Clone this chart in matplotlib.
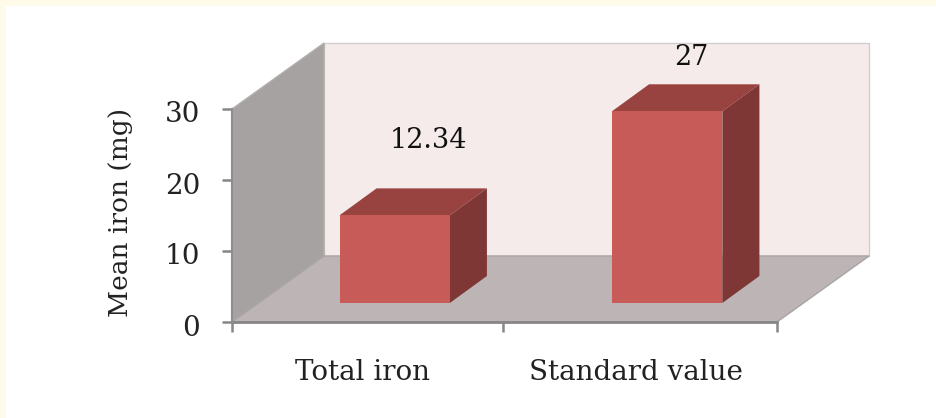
import matplotlib.pyplot as plt
from matplotlib.patches import Polygon, Rectangle
from matplotlib.transforms import ScaledTranslation

categories = ["Total iron", "Standard value"]
values = [12.34, 27]
value_labels = ["12.34", "27"]
y_ticks = [0, 10, 20, 30]

W, H = 936, 418

# oblique projection: depth offsets in axis units (category, mg)
wall_dx, wall_dy = 0.338, 9.3
bar_dx, bar_dy = 0.136, 3.8
base_dx, base_dy = 0.097, 2.68
bar_width = 0.405

plt.rcParams['font.family'] = ['DejaVu Serif']

fig = plt.figure(figsize=(W / 100, H / 100), dpi=100, facecolor='#FFFBEB')
fig.patches.append(Rectangle((6 / W, 0), 1 - 6 / W, 1 - 6 / H, transform=fig.transFigure,
                             facecolor='white', edgecolor='none', zorder=-1))

ax = fig.add_axes([232 / W, 1 - 322 / H, 545 / W, 213 / H])
ax.set_xlim(0, 2)
ax.set_ylim(0, 30)
ax.patch.set_visible(False)
for side in ['top', 'right', 'left', 'bottom']:
    ax.spines[side].set_visible(False)


def face(points, color, edge='none', z=1):
    ax.add_patch(Polygon(points, closed=True, facecolor=color, edgecolor=edge,
                         linewidth=1, zorder=z, clip_on=False))


# walls and floor
face([(wall_dx, wall_dy), (2 + wall_dx, wall_dy), (2 + wall_dx, 30 + wall_dy), (wall_dx, 30 + wall_dy)],
     '#F5EBEB', '#D2CDCD', 1)
face([(0, 0), (wall_dx, wall_dy), (wall_dx, 30 + wall_dy), (0, 30)], '#A6A2A2', '#B4B0B0', 2)
face([(0, 0), (2, 0), (2 + wall_dx, wall_dy), (wall_dx, wall_dy)], '#BDB5B5', '#A8A4A4', 2)

# bars: front face from the library's bar call, top and side sheared behind it
for i, v in enumerate(values):
    left = i + 0.5 + base_dx - bar_width / 2
    right = left + bar_width
    bottom = base_dy
    top = base_dy + v
    ax.bar(left, v, width=bar_width, bottom=bottom, align='edge', color='#C65B57',
           zorder=5, clip_on=False)
    face([(left, top), (right, top), (right + bar_dx, top + bar_dy), (left + bar_dx, top + bar_dy)],
         '#98433F', z=4)
    face([(right, bottom), (right + bar_dx, bottom + bar_dy), (right + bar_dx, top + bar_dy), (right, top)],
         '#7F3735', z=4)

# value labels sit above the bars, cut off at the top of the back wall
clip = Rectangle((0, 0), 2 + wall_dx, 30 + wall_dy, transform=ax.transData)
label_pos = [(0.72, 25.6), (1.684, 37.2)]
for (x, y), s in zip(label_pos, value_labels):
    t = ax.text(x, y, s, ha='center', va='center', fontsize=19.5, color='#111111', zorder=6)
    t.set_clip_path(clip)

ax.set_yticks(y_ticks)
ax.set_yticklabels([str(t) for t in y_ticks], fontsize=20, color='#222222',
                   va='center')
ax.set_xticks([0, 0.995, 2])
ax.set_xticklabels([])
ax.tick_params(axis='both', color='#868686', width=1.8, length=7.5, pad=15.5)
# tick numbers sit a little below their ticks
shift = ScaledTranslation(0, -6 / 100, fig.dpi_scale_trans)
for lab in ax.get_yticklabels():
    lab.set_transform(lab.get_transform() + shift)
ax.plot([0, 2], [0, 0], color='#868686', lw=2, zorder=3, clip_on=False)
ax.plot([0, 0], [0, 30], color='#8E8E8E', lw=1.5, zorder=3, clip_on=False)

for x, s in zip([0.48, 1.483], categories):
    ax.text(x, -7.1, s, ha='center', va='center', fontsize=20, color='#222222')

ax.set_ylabel("Mean iron (mg)", fontsize=19, color='#222222')
ax.yaxis.set_label_coords(-99 / 545, 0.516)

fig.savefig("out.png", dpi=100, facecolor=fig.get_facecolor())
